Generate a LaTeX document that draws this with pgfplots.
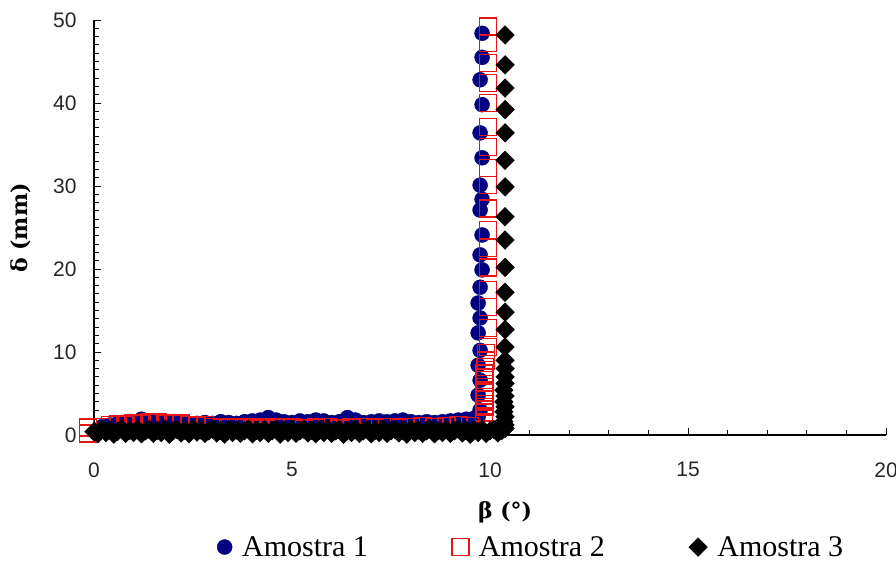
\documentclass[border=0pt]{standalone}
\usepackage{fontspec}
\usepackage{pgfplots}
\pgfplotsset{compat=1.18}
\newfontfamily\tickfont{Liberation Sans}
\newfontfamily\labfont{DejaVu Serif}
\newfontfamily\legfont{Liberation Serif}
\definecolor{navyc}{RGB}{0,0,128}
\definecolor{redc}{RGB}{230,20,20}

\pgfplotstableread{
x y
0.2 1.0
0.4 1.2
0.6 1.4
0.8 1.5
1.0 1.6
1.2 1.9
1.4 1.7
1.6 1.5
1.8 1.6
2.0 1.4
2.2 1.5
2.4 1.3
2.6 1.4
2.8 1.5
3.0 1.4
3.2 1.6
3.4 1.5
3.6 1.4
3.8 1.6
4.0 1.7
4.2 1.8
4.4 2.1
4.6 1.8
4.8 1.6
5.0 1.5
5.2 1.7
5.4 1.6
5.6 1.8
5.8 1.7
6.0 1.5
6.2 1.6
6.4 2.1
6.6 1.8
6.8 1.5
7.0 1.6
7.2 1.7
7.4 1.6
7.6 1.7
7.8 1.8
8.0 1.6
8.2 1.5
8.4 1.6
8.6 1.5
8.8 1.6
9.0 1.7
9.2 1.8
9.4 1.9
9.6 2.0
9.70 2.2
9.75 3.0
9.70 4.8
9.75 6.6
9.70 8.4
9.75 10.2
9.70 12.3
9.75 14.1
9.70 15.9
9.75 17.8
9.80 19.9
9.75 21.7
9.80 24.1
9.75 27.1
9.80 28.4
9.75 30.1
9.80 33.4
9.75 36.4
9.80 39.8
9.75 42.8
9.80 45.5
9.80 48.4
}\amostraA

\pgfplotstableread{
x y
-0.15 0.2
-0.15 0.9
0.2 1.0
0.4 1.2
0.6 1.3
0.8 1.2
1.0 1.4
1.2 1.3
1.4 1.5
1.6 1.6
1.8 1.4
2.0 1.3
2.2 1.4
2.4 1.2
2.6 1.1
2.8 1.2
3.0 1.0
3.2 0.9
3.4 1.0
3.6 0.9
3.8 1.0
4.0 0.8
4.2 0.9
4.4 0.8
4.6 1.0
4.8 0.9
5.0 0.9
5.3 0.8
5.6 0.9
5.9 1.0
6.2 0.8
6.5 0.9
6.8 1.0
7.1 0.9
7.4 1.0
7.7 0.9
8.0 1.0
8.3 1.1
8.6 1.0
8.9 1.1
9.2 1.2
9.5 1.1
9.85 1.5
9.85 2.0
9.85 2.7
9.88 3.4
9.85 4.3
9.88 5.1
9.85 5.8
9.88 6.6
9.85 7.4
9.88 8.2
9.90 9.0
9.90 9.9
9.95 10.6
9.95 12.9
9.95 15.4
9.95 17.5
9.95 20.2
9.95 22.5
9.95 24.7
9.95 27.3
9.95 30.1
9.95 32.2
9.95 34.7
9.95 37.1
9.95 40.0
9.95 42.4
9.95 44.8
9.95 47.2
9.95 49.2
}\amostraB

\pgfplotstableread{
x y
0.0 0.4
0.1 0.15
0.2 0.7
0.3 0.3
0.4 0.6
0.5 0.1
0.6 0.45
0.7 0.75
0.8 0.2
0.9 0.55
1.0 0.3
1.1 0.7
1.2 0.15
1.3 0.5
1.4 0.65
1.5 0.2
1.6 0.55
1.7 0.3
1.8 0.7
1.9 0.1
2.0 0.5
2.1 0.65
2.2 0.25
2.3 0.55
2.4 0.15
2.5 0.7
2.6 0.35
2.7 0.6
2.8 0.2
2.9 0.5
3.0 0.7
3.1 0.25
3.2 0.55
3.3 0.1
3.4 0.65
3.5 0.3
3.6 0.6
3.7 0.2
3.8 0.5
3.9 0.7
4.0 0.15
4.1 0.55
4.2 0.3
4.3 0.65
4.4 0.2
4.5 0.5
4.6 0.7
4.7 0.1
4.8 0.55
4.9 0.3
5.0 0.65
5.1 0.2
5.2 0.5
5.3 0.7
5.4 0.25
5.5 0.55
5.6 0.15
5.7 0.6
5.8 0.3
5.9 0.7
6.0 0.2
6.1 0.5
6.2 0.65
6.3 0.1
6.4 0.55
6.5 0.3
6.6 0.7
6.7 0.2
6.8 0.5
6.9 0.65
7.0 0.15
7.1 0.55
7.2 0.3
7.3 0.7
7.4 0.2
7.5 0.5
7.6 0.65
7.7 0.25
7.8 0.55
7.9 0.1
8.0 0.7
8.1 0.3
8.2 0.6
8.3 0.2
8.4 0.5
8.5 0.7
8.6 0.15
8.7 0.55
8.8 0.3
8.9 0.65
9.0 0.2
9.1 0.5
9.2 0.7
9.3 0.25
9.4 0.55
9.5 0.1
9.6 0.6
9.7 0.3
9.8 0.7
9.9 0.2
10.0 0.5
10.1 0.65
10.2 0.25
10.3 0.55
10.38 0.8
10.38 1.2
10.35 1.6
10.38 2.2
10.35 2.8
10.38 3.4
10.35 4.0
10.38 4.7
10.35 5.4
10.38 6.2
10.38 7.0
10.38 8.0
10.38 9.0
10.38 10.6
10.38 12.7
10.38 14.8
10.38 17.2
10.38 20.2
10.38 23.5
10.38 26.3
10.38 29.9
10.38 33.1
10.38 36.4
10.38 39.2
10.38 41.8
10.38 44.6
10.38 48.2
}\amostraC

\begin{document}
\begin{tikzpicture}
\begin{axis}[
  width=792bp, height=415bp, scale only axis,
  xmin=0, xmax=20, ymin=0, ymax=50,
  clip=false,
  axis x line=bottom, axis y line=left,
  axis line style={-, line width=1.2bp, black},
  tick align=inside,
  xtick={0,5,...,20}, ytick={0,10,...,50},
  minor x tick num=4, minor y tick num=9,
  major tick length=7bp, minor tick length=5bp,
  tick style={black, line width=1bp},
  /pgf/number format/assume math mode=true,
  tick label style={font=\tickfont\fontsize{21bp}{25bp}\selectfont, text=black!85},
  xticklabel style={yshift=-24bp},
  yticklabel style={xshift=-14bp},
  xlabel={β (°)}, ylabel={δ (mm)},
  label style={font=\labfont\bfseries\fontsize{22bp}{26bp}\selectfont},
  xlabel style={at={(axis description cs:0.519,-0.186)}, anchor=center},
  ylabel style={at={(axis description cs:-0.092,0.499)}, anchor=center},
  legend columns=3,
  legend cell align=left,
  legend style={draw=none, fill=none, at={(axis description cs:0.552,-0.27)}, anchor=center,
    font=\legfont\fontsize{30bp}{34bp}\selectfont,
    column sep=8bp,
    /tikz/every even column/.append style={column sep=82bp}},
]
\addplot[only marks, color=navyc, mark=*, mark size=7.5bp] table {\amostraA};
\addlegendentry{Amostra 1}
\addplot[only marks, color=redc, mark=square, mark size=8.5bp, mark options={line width=1.4bp, fill=none}] table {\amostraB};
\addlegendentry{Amostra 2}
\addplot[only marks, color=black, mark=square*, mark size=6.6bp, mark options={rotate=45}] table {\amostraC};
\addlegendentry{Amostra 3}
\coordinate (bl) at (axis description cs:-0.1187,-0.3084);
\coordinate (tr) at (axis description cs:1.0126,1.0482);
\end{axis}
\pgfresetboundingbox
\useasboundingbox (bl) rectangle (tr);
\end{tikzpicture}
\end{document}
